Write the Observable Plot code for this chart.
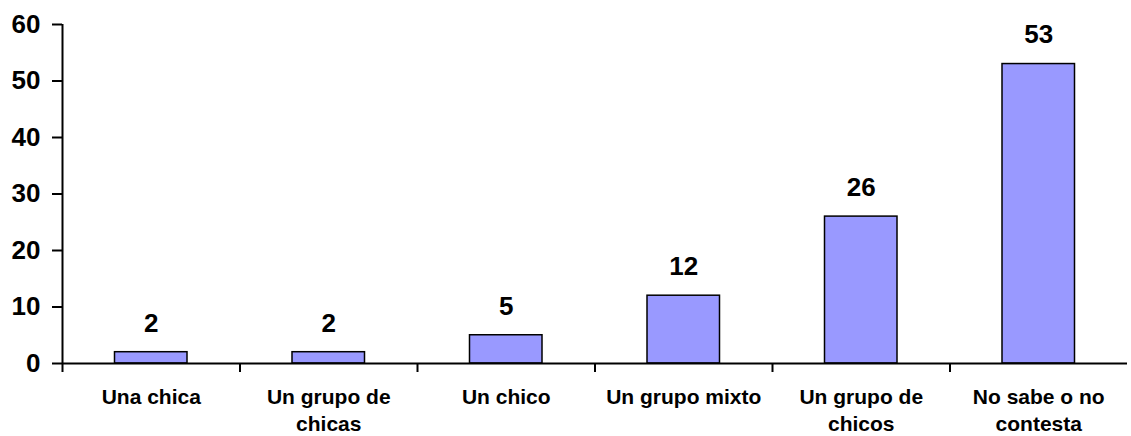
<!DOCTYPE html>
<html>
<head>
<meta charset="utf-8">
<script src="https://cdn.jsdelivr.net/npm/d3@7"></script>
<script src="https://cdn.jsdelivr.net/npm/@observablehq/plot@0.6"></script>
<style>
  html, body { margin: 0; padding: 0; background: #fff; }
  svg { display: block; }
</style>
</head>
<body>
<div id="chart"></div>
<script>
const categories = ["Una chica", "Un grupo de chicas", "Un chico", "Un grupo mixto", "Un grupo de chicos", "No sabe o no contesta"];
const tickLabels = ["Una chica", "Un grupo de\nchicas", "Un chico", "Un grupo mixto", "Un grupo de\nchicos", "No sabe o no\ncontesta"];
const values = [2, 2, 5, 12, 26, 53];
const yTicks = [0, 10, 20, 30, 40, 50, 60];

const data = categories.map((c, i) => ({category: c, label: tickLabels[i], value: values[i], i}));
const font = "'Liberation Sans', Arial, sans-serif";

const chart = Plot.plot({
  width: 1131,
  height: 436,
  marginLeft: 62,
  marginRight: 4,
  marginTop: 24,
  marginBottom: 73,
  style: {fontFamily: font, background: "#fff", overflow: "visible"},
  x: {domain: [0, 6]},
  y: {domain: [0, 60]},
  marks: [
    Plot.rectY(data, {
      x1: d => d.i, x2: d => d.i + 1, y: "value",
      insetLeft: 52.5, insetRight: 52.5,
      fill: "#9999ff", stroke: "#000", strokeWidth: 1.5
    }),
    Plot.ruleY([0], {stroke: "#000", strokeWidth: 2}),
    Plot.ruleX([0], {stroke: "#000", strokeWidth: 2}),
    Plot.axisY({
      ticks: yTicks, tickSize: 10, tickPadding: 12,
      fontSize: 26, fontWeight: "bold", label: null,
      stroke: "#000", strokeWidth: 2, fill: "#000"
    }),
    Plot.axisX({
      ticks: d3.range(0, 6), tickFormat: () => "", tickSize: 9,
      label: null, stroke: "#000", strokeWidth: 2
    }),
    Plot.text(data, {
      x: d => d.i + 0.5, y: "value", text: d => String(d.value),
      dy: -29, fontSize: 26, fontWeight: "bold", fill: "#000"
    }),
    Plot.text(data, {
      x: d => d.i + 0.5, y: () => 0, text: "label",
      lineAnchor: "top", dy: 22, lineHeight: 1.26,
      fontSize: 21, fontWeight: "bold", fill: "#000"
    })
  ]
});
document.getElementById("chart").appendChild(chart);
</script>
</body>
</html>
